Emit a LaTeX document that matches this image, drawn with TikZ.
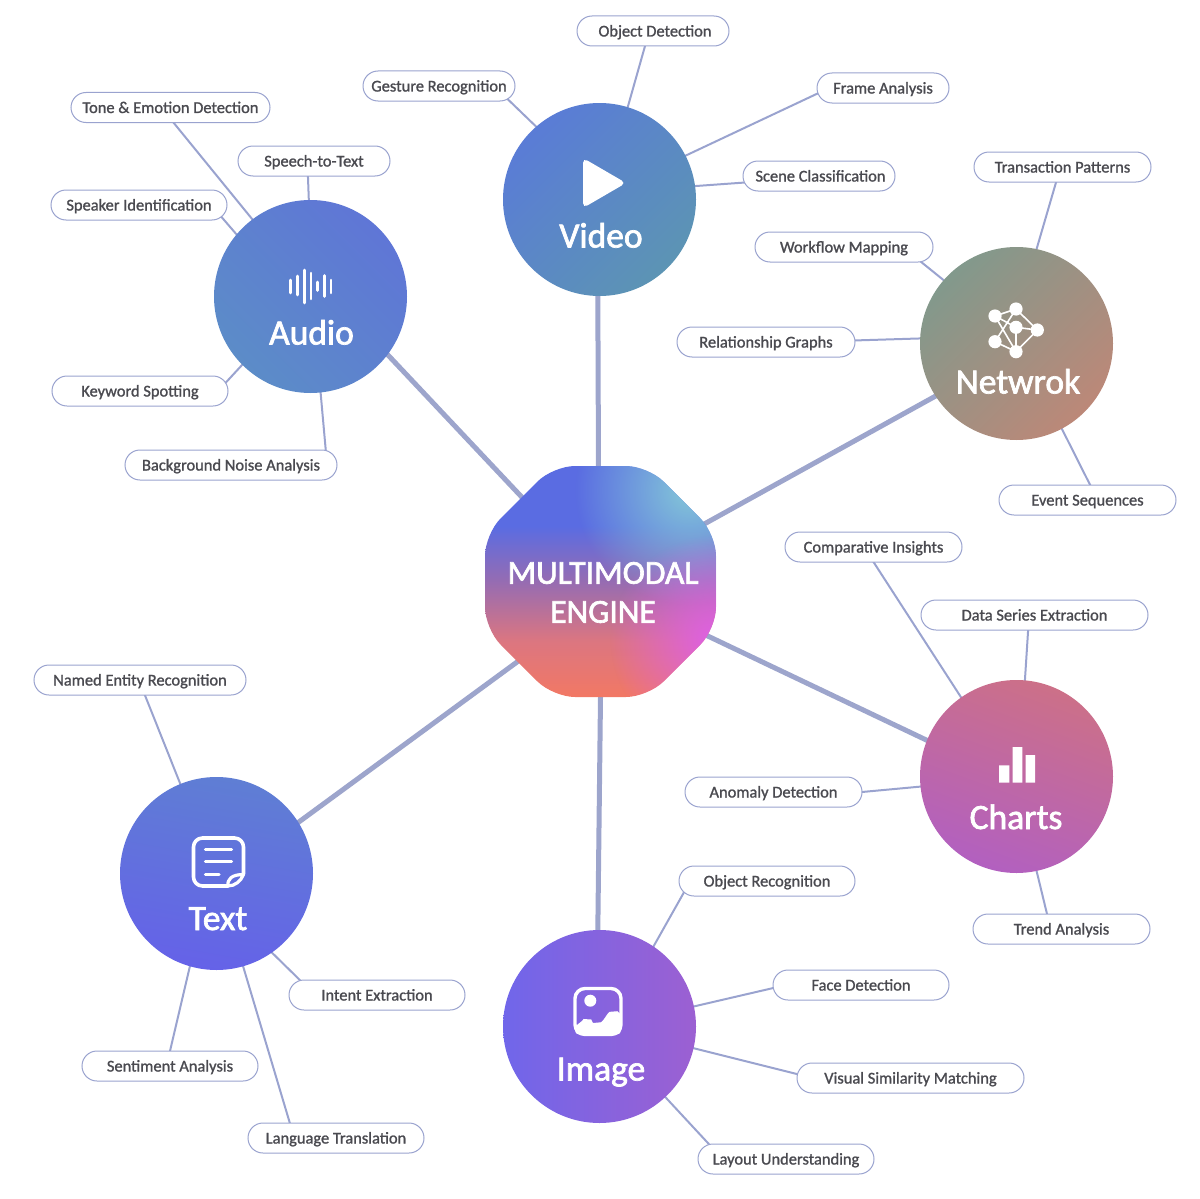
\documentclass[tikz,border=0pt]{standalone}
\usepackage{fontspec}
\usetikzlibrary{fadings}
\newfontfamily\pillfont[FakeBold=1.2]{Carlito}
\newfontfamily\hubfont[FakeBold=2]{Carlito}
\definecolor{pillline}{HTML}{9AA3CF}
\definecolor{pilltext}{HTML}{4A4A50}
\definecolor{spoke}{HTML}{9DA5CC}
\definecolor{enginetop}{HTML}{5A6CE2}
\definecolor{enginemid}{HTML}{966CB2}
\definecolor{enginedeep}{HTML}{DC7680}
\definecolor{enginelow}{HTML}{F27864}
\definecolor{enginesky}{HTML}{84C8D8}
\definecolor{enginepink}{HTML}{DE60E6}
\definecolor{videoa}{HTML}{5A7CD6}
\definecolor{videob}{HTML}{5C94B4}
\definecolor{audioa}{HTML}{5F76D6}
\definecolor{audiob}{HTML}{5C8CC8}
\definecolor{netwroka}{HTML}{82998C}
\definecolor{netwrokb}{HTML}{BC8878}
\definecolor{chartsa}{HTML}{CC7088}
\definecolor{chartsb}{HTML}{B260C0}
\definecolor{imagea}{HTML}{7066EA}
\definecolor{imageb}{HTML}{9C60D2}
\definecolor{texta}{HTML}{5F7ED4}
\definecolor{textb}{HTML}{6562E8}
\pgfdeclarelayer{background}
\pgfsetlayers{background,main}
\pgfdeclareverticalshading{enginefill}{100bp}{color(0bp)=(enginelow); color(25bp)=(enginelow); color(37bp)=(enginedeep); color(50bp)=(enginemid); color(62bp)=(enginetop); color(75bp)=(enginetop); color(100bp)=(enginetop)}
\tikzfading[name=enginefade, inner color=transparent!0, outer color=transparent!100]
\tikzset{
  pill/.style={draw=pillline, line width=1pt, fill=white, rounded corners=15pt, minimum height=30pt,
    inner sep=0pt, outer sep=0pt, text=pilltext, text height=12pt, text depth=1pt, font=\pillfont\fontsize{16.45}{18}\selectfont},
  hub/.style n args={3}{circle, minimum size=193pt, inner sep=0pt, outer sep=0pt, top color=#1, bottom color=#2, shading angle=#3},
  hublabel/.style={text=white, inner sep=0pt, anchor=base, font=\hubfont\fontsize{35.5}{39}\selectfont},
  twig/.style={draw=pillline, line width=2pt, shorten >=-5pt, shorten <=-2pt},
  spokeline/.style={draw=spoke, line width=5pt, shorten >=-4pt, shorten <=-4pt},
  iconline/.style={draw=white, line cap=round, line join=round}
}
\begin{document}
\begin{tikzpicture}[x=1pt,y=-1pt]
\useasboundingbox (0,0) rectangle (1200,1199);

% centre shape
\begin{scope}
\clip[rounded corners=22pt] (553,466) -- (648,466) -- (716,534) -- (716,629) -- (648,697) -- (553,697) -- (485,629) -- (485,534) -- cycle;
\shade[shading=enginefill] (485,466) rectangle (716,697);
\fill[enginesky, path fading=enginefade] (690,490) circle (115);
\fill[enginepink, path fading=enginefade] (715,640) circle (105);
\end{scope}
\node[circle, minimum size=231pt, inner sep=0pt, outer sep=0pt] (engine) at (600.5,581.5) {};
\node[text=white, align=center, inner sep=0pt, font=\hubfont\fontsize{33.5}{39}\selectfont] (enginelabel) at (603,592.5) {MULTIMODAL\\ENGINE};

% hubs
\node[hub={videoa}{videob}{45}] (video) at (599.5,199.5) {};
\node[hub={audioa}{audiob}{-45}] (audio) at (310.5,296.5) {};
\node[hub={netwroka}{netwrokb}{45}] (netwrok) at (1016.5,343.5) {};
\node[hub={chartsa}{chartsb}{-20}] (charts) at (1016.5,776.5) {};
\node[hub={imagea}{imageb}{90}] (image) at (599.5,1026.5) {};
\node[hub={texta}{textb}{-10}] (text) at (216.5,873.5) {};

\node[hublabel] (videolabel) at (601,247.5) {Video};
\node[hublabel] (audiolabel) at (311.5,344.5) {Audio};
\node[hublabel] (netwroklabel) at (1018,393.5) {Netwrok};
\node[hublabel] (chartslabel) at (1016,829) {Charts};
\node[hublabel] (imagelabel) at (601,1080.5) {Image};
\node[hublabel] (textlabel) at (218,930) {Text};

% video pills
\node[pill, minimum width=152pt] (objdet) at (653,31) {\hspace{4pt}Object Detection};
\node[pill, minimum width=152pt] (gesture) at (439,86) {Gesture Recognition};
\node[pill, minimum width=132pt] (frame) at (883,88) {Frame Analysis};
\node[pill, minimum width=152pt] (scene) at (819,176) {\hspace{3pt}Scene Classification};
% audio pills
\node[pill, minimum width=199pt] (tone) at (170.5,107.5) {Tone \& Emotion Detection};
\node[pill, minimum width=152pt] (speech) at (314,161) {Speech-to-Text};
\node[pill, minimum width=176pt] (speaker) at (139,205) {Speaker Identification};
\node[pill, minimum width=176pt] (keyword) at (140,391) {Keyword Spotting};
\node[pill, minimum width=212pt] (noise) at (231,465) {Background Noise Analysis\hspace{6pt}};
% netwrok pills
\node[pill, minimum width=177pt] (transaction) at (1062.5,167) {Transaction Patterns};
\node[pill, minimum width=178pt] (workflow) at (844,247) {Workflow Mapping};
\node[pill, minimum width=178pt] (relation) at (766,342) {Relationship Graphs};
\node[pill, minimum width=177pt] (event) at (1087.5,500) {Event Sequences};
% charts pills
\node[pill, minimum width=177pt] (compare) at (873.5,547) {Comparative Insights};
\node[pill, minimum width=227pt] (series) at (1034.5,615) {Data Series Extraction\hspace{6pt}};
\node[pill, minimum width=177pt] (anomaly) at (773.5,792) {Anomaly Detection};
\node[pill, minimum width=177pt] (trend) at (1061.5,929) {Trend Analysis};
% image pills
\node[pill, minimum width=176pt] (objrec) at (767,881) {Object Recognition};
\node[pill, minimum width=176pt] (face) at (861,985) {Face Detection};
\node[pill, minimum width=227pt] (visual) at (910.5,1078) {Visual Similarity Matching\hspace{6pt}};
\node[pill, minimum width=176pt] (layout) at (786,1159) {Layout Understanding};
% text pills
\node[pill, minimum width=212pt] (named) at (140,680) {Named Entity Recognition\hspace{6pt}};
\node[pill, minimum width=176pt] (intent) at (377,995) {Intent Extraction};
\node[pill, minimum width=176pt] (sentiment) at (170,1066) {Sentiment Analysis};
\node[pill, minimum width=176pt] (language) at (336,1138) {Language Translation};

\begin{pgfonlayer}{background}
\draw[spokeline] (video.-91) -- (engine.91);
\draw[spokeline] (audio.-37) -- (engine.133);
\draw[spokeline] (netwrok.213) -- (engine.29);
\draw[spokeline] (charts.158) -- (engine.-27);
\draw[spokeline] (image.91) -- (engine.-90);
\draw[spokeline] (text.32) -- (engine.224);

\draw[twig] (video.131) -- (gesture.-12.3);
\draw[twig] (video.73) -- (objdet.242);
\draw[twig] (video.27) -- (frame.185);
\draw[twig] (video.8) -- (scene.185);

\draw[twig] (audio.127) -- (tone.-79);
\draw[twig] (audio.91) -- (speech.248);
\draw[twig] (audio.140) -- (speaker.-10.5);
\draw[twig] (audio.225) -- (keyword.7);
\draw[twig] (audio.-84) -- (noise.9);

\draw[twig] (netwrok.78) -- (transaction.247);
\draw[twig] (netwrok.139) -- (workflow.-11);
\draw[twig] (netwrok.177) -- (relation.1);
\draw[twig] (netwrok.-62) -- (event.80);

\draw[twig] (charts.125) -- (compare.south);
\draw[twig] (charts.85) -- (series.247);
\draw[twig] (charts.186) -- (anomaly.east);
\draw[twig] (charts.-78) -- (trend.134);

\draw[twig] (image.56) -- (objrec.190.8);
\draw[twig] (image.12) -- (face.182);
\draw[twig] (image.-13) -- (visual.178);
\draw[twig] (image.-47) -- (layout.169);

\draw[twig] (text.112) -- (named.-72);
\draw[twig] (text.-55) -- (intent.169.7);
\draw[twig] (text.-106) -- (sentiment.north);
\draw[twig] (text.-74) -- (language.162);
\end{pgfonlayer}

% video icon
\fill[white, rounded corners=5pt] (583,158) -- (583,208) -- (626,183) -- cycle;

% audio icon
\draw[iconline, line width=2.6pt] (290.3,280) -- (290.3,293) (297.7,276) -- (297.7,295) (304.7,270) -- (304.7,303) (311,273) -- (311,299) (317.3,282) -- (317.3,290.5) (324.7,275.5) -- (324.7,296.5) (331,280) -- (331,293);

% netwrok icon
\draw[iconline, line width=1.6pt] (995,316) -- (1016,309) -- (1037.3,330) -- (1016,351.7) -- (995,341.7) -- (1016,309) (995,316) -- (1016,351.7) -- (1016,327.3) -- (1037.3,330) (995,316) -- (1016,327.3);
\fill[white] (995,316) circle (6.6) (1016,309) circle (6.6) (1016,327.3) circle (6.6) (1037.3,330) circle (6.6) (995,341.7) circle (6.6) (1016,351.7) circle (6.6);

% charts icon
\fill[white] (999,765.3) rectangle (1009.3,782.7) (1012.7,747) rectangle (1022.3,782.7) (1025.7,755) rectangle (1035,782.7);

% text icon
\draw[iconline, line width=3.6pt, rounded corners=9pt] (228,886) -- (193.5,886) -- (193.5,838) -- (243.5,838) -- (243.5,874);
\draw[iconline, line width=3.2pt] (243.5,874.5) .. controls (241,881) and (235,886) .. (228,886) .. controls (227,879) and (232,874.5) .. (243.5,874.5);
\draw[iconline, line width=3.2pt] (205.5,849.7) -- (231.5,849.7) (205.5,861.7) -- (231.5,861.7) (205.5,874.3) -- (219,874.3);

% image icon
\draw[iconline, line width=3.4pt, rounded corners=10pt] (575,988.5) rectangle (621,1034.5);
\fill[white] (590.3,1000.7) circle (6);
\fill[white, rounded corners=4pt] (575,1025) .. controls (580,1023) and (584,1019) .. (587.5,1019.3) .. controls (591,1019.5) and (593,1023) .. (597,1022.7) .. controls (603,1022) and (608,1012) .. (613.5,1011.5) .. controls (616,1011.3) and (619,1012) .. (621,1013) -- (621,1034.5) -- (575,1034.5) -- cycle;
\end{tikzpicture}
\end{document}
